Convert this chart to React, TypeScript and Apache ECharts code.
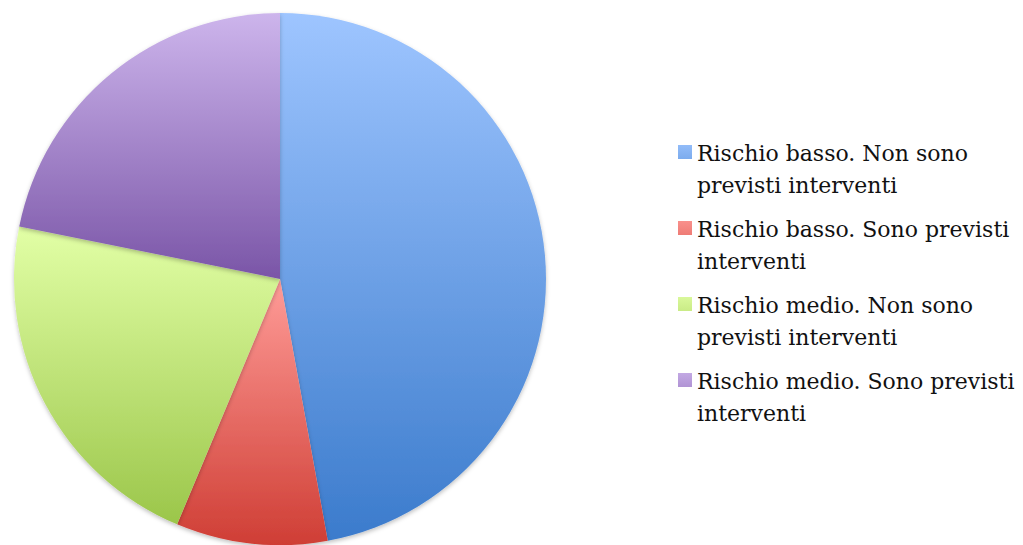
import React, { useEffect, useRef } from "react";
import * as echarts from "echarts";

const categories = [
  "Rischio basso. Non sono previsti interventi",
  "Rischio basso. Sono previsti interventi",
  "Rischio medio. Non sono previsti interventi",
  "Rischio medio. Sono previsti interventi",
];
const legendLabels = [
  "Rischio basso. Non sono\nprevisti interventi",
  "Rischio basso. Sono previsti\ninterventi",
  "Rischio medio. Non sono\nprevisti interventi",
  "Rischio medio. Sono previsti\ninterventi",
];
const values = [41, 8, 19, 19];
const topColors = ["#9EC5FF", "#FF9C98", "#E2FFA6", "#CDB5EC"];
const bottomColors = ["#3B7BCC", "#CF3E35", "#9BC64A", "#7A55A7"];

export default function App() {
  const ref = useRef<HTMLDivElement>(null);
  useEffect(() => {
    if (!ref.current) return;
    const chart = echarts.init(ref.current, null, { renderer: "svg" });
    const icon =
      "path://M0,0L0.01,0L0,0.01Z M0,8L14,8L14,22L0,22Z M0,64L0.01,64L0,63.99Z";
    chart.setOption({
      animation: false,
      backgroundColor: "#ffffff",
      legend: {
        orient: "vertical",
        left: 673,
        top: 132,
        itemWidth: 14,
        itemHeight: 64,
        itemGap: 12,
        icon,
        data: categories,
        formatter: (name: string) => legendLabels[categories.indexOf(name)],
        textStyle: {
          fontFamily: "DejaVu Serif",
          fontSize: 22,
          lineHeight: 32,
          color: "#111111",
        },
        selectedMode: false,
      },
      series: [
        {
          type: "pie",
          center: [280, 279],
          radius: 266,
          startAngle: 90,
          clockwise: true,
          label: { show: false },
          labelLine: { show: false },
          emphasis: { disabled: true },
          data: categories.map((c, i) => ({
            name: c,
            value: values[i],
            itemStyle: {
              color: new echarts.graphic.LinearGradient(0, 0, 0, 1, [
                { offset: 0, color: topColors[i] },
                { offset: 1, color: bottomColors[i] },
              ]),
              shadowBlur: 4,
              shadowOffsetY: 2,
              shadowColor: "rgba(0,0,0,0.25)",
            },
          })),
        },
      ],
    });
    return () => chart.dispose();
  }, []);
  return (
    <div
      ref={ref}
      style={{ position: "fixed", left: 0, top: 0, width: 1023, height: 545 }}
    />
  );
}
